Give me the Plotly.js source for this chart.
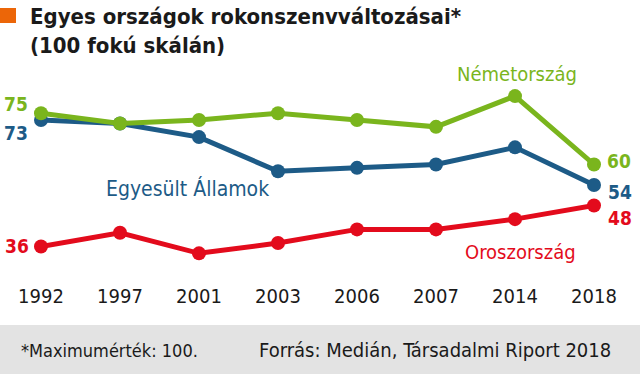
<!DOCTYPE html>
<html>
<head>
<meta charset="utf-8">
<script src="https://cdn.plot.ly/plotly-3.0.1.min.js"></script>
<style>html,body{margin:0;padding:0;background:#fff;}#chart{width:640px;height:374px;}</style>
</head>
<body>
<div id="chart"></div>
<script>
const years = ['1992','1997','2001','2003','2006','2007','2014','2018'];
const germany = [75, 72, 73, 75, 73, 71, 80, 60];
const usa = [73, 72, 68, 58, 59, 60, 65, 54];
const russia = [36, 40, 34, 37, 41, 41, 44, 48];
const names = ['Németország', 'Egyesült Államok', 'Oroszország'];
const colors = ['#7ab51d', '#1d5b87', '#e30b1c'];
const titleText = 'Egyes országok rokonszenvváltozásai*<br>(100 fokú skálán)';
const footLeft = '*Maximumérték: 100.';
const footRight = 'Forrás: Medián, Társadalmi Riport 2018';

const FONT = '"Liberation Sans Narrow", "DejaVu Sans Condensed", Roboto, sans-serif';
const series = [germany, usa, russia];
const order = [1, 2, 0];
const traces = order.map(i => ({
  x: years, y: series[i], type: 'scatter', mode: 'lines+markers',
  line: {color: colors[i], width: 5}, marker: {color: colors[i], size: 14},
  cliponaxis: false, hoverinfo: 'none', showlegend: false
}));

// plot area in pixels: x 41..594, y 79..267
const L = 41, R = 594, T = 79, B = 267;
const px = v => (v - L) / (R - L);
const py = v => (B - v) / (B - T);

const last = years.length - 1;
const valFont = c => ({color: c, size: 19, family: FONT, weight: 'bold'});
const base = {xref: 'x', yref: 'y', showarrow: false, borderpad: 0};
const annotations = [
  Object.assign({x: 0, y: germany[0], text: String(germany[0]), xshift: -25, yshift: 9, font: valFont(colors[0])}, base),
  Object.assign({x: 0, y: usa[0], text: String(usa[0]), xshift: -25, yshift: -13, font: valFont(colors[1])}, base),
  Object.assign({x: 0, y: russia[0], text: String(russia[0]), xshift: -24, yshift: 0, font: valFont(colors[2])}, base),
  Object.assign({x: last, y: germany[last], text: String(germany[last]), xshift: 25, yshift: 3, font: valFont(colors[0])}, base),
  Object.assign({x: last, y: usa[last], text: String(usa[last]), xshift: 26, yshift: -7, font: valFont(colors[1])}, base),
  Object.assign({x: last, y: russia[last], text: String(russia[last]), xshift: 26, yshift: -13, font: valFont(colors[2])}, base),
  {xref: 'paper', yref: 'paper', x: px(517), y: py(74), text: names[0], font: {color: colors[0], size: 20, family: FONT}, showarrow: false, xanchor: 'center', yanchor: 'middle'},
  {xref: 'paper', yref: 'paper', x: px(188), y: py(188), text: names[1], font: {color: colors[1], size: 21, family: FONT}, showarrow: false, xanchor: 'center', yanchor: 'middle'},
  {xref: 'paper', yref: 'paper', x: px(520), y: py(252), text: names[2], font: {color: colors[2], size: 20, family: FONT}, showarrow: false, xanchor: 'center', yanchor: 'middle'},
  {xref: 'paper', yref: 'paper', x: px(28), y: py(2), text: '<b>' + titleText + '</b>', align: 'left', font: {color: '#1a1a1a', size: 22, family: FONT}, showarrow: false, xanchor: 'left', yanchor: 'top'},
  {xref: 'paper', yref: 'paper', x: px(19), y: py(350), text: footLeft, font: {color: '#1a1a1a', size: 18, family: FONT}, showarrow: false, xanchor: 'left', yanchor: 'middle'},
  {xref: 'paper', yref: 'paper', x: px(613), y: py(350), text: footRight, font: {color: '#1a1a1a', size: 20, family: FONT}, showarrow: false, xanchor: 'right', yanchor: 'middle'}
];

const shapes = [
  {type: 'rect', xref: 'paper', yref: 'paper', x0: px(0), x1: px(640), y0: py(325), y1: py(374), fillcolor: '#e3e3e3', line: {width: 0}, layer: 'below'},
  {type: 'rect', xref: 'paper', yref: 'paper', x0: px(0), x1: px(16), y0: py(8), y1: py(23), fillcolor: '#ec6608', line: {width: 0}}
];

const layout = {
  width: 640, height: 374,
  margin: {l: L, r: 640 - R, t: T, b: 374 - B, pad: 0},
  paper_bgcolor: '#ffffff', plot_bgcolor: '#ffffff',
  font: {family: FONT, color: '#1a1a1a'},
  xaxis: {type: 'category', range: [0, last], showgrid: false, zeroline: false, showline: false, ticks: '', ticklen: 0,
          ticklabelstandoff: 15,
          tickfont: {size: 20, family: FONT, color: '#1a1a1a'}, automargin: false, fixedrange: true},
  yaxis: {range: [30, 85], showgrid: false, zeroline: false, showline: false, showticklabels: false, ticks: '', fixedrange: true},
  annotations: annotations,
  shapes: shapes
};

Plotly.newPlot('chart', traces, layout, {displayModeBar: false, staticPlot: true});
</script>
</body>
</html>
